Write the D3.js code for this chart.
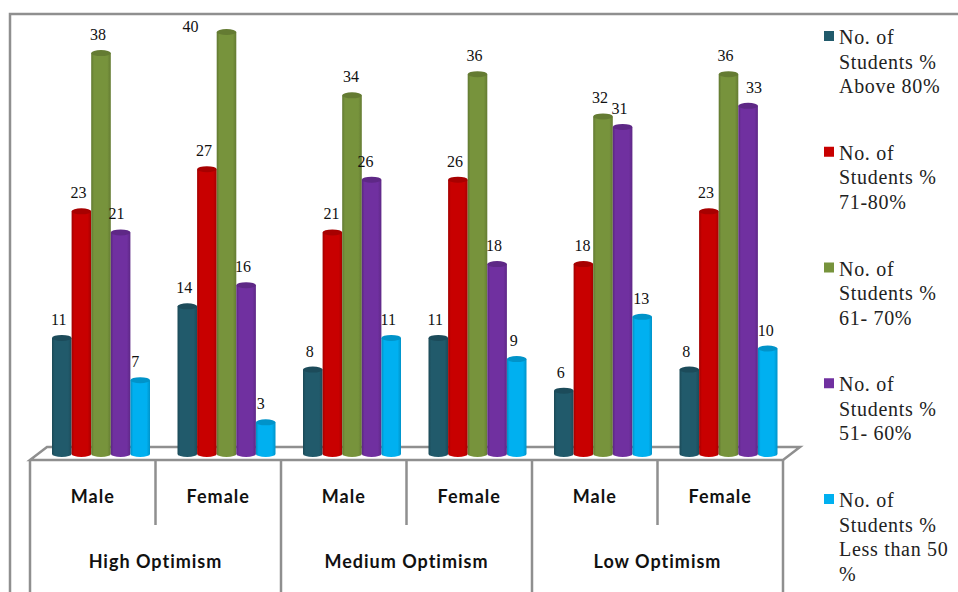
<!DOCTYPE html>
<html>
<head>
<meta charset="utf-8">
<script src="https://cdn.jsdelivr.net/npm/d3@7"></script>
<style>
html,body{margin:0;padding:0;background:#fff;overflow:hidden}
svg{display:block}
</style>
</head>
<body>
<svg id="chart" width="958" height="592"></svg>
<script>
// Student performance by optimism level and gender
const optimismLevels = ["High Optimism", "Medium Optimism", "Low Optimism"];
const genders = ["Male", "Female", "Male", "Female", "Male", "Female"];
const bands = ["Above 80%", "71-80%", "61- 70%", "51- 60%", "Less than 50 %"];

const above80 = [11, 14, 8, 11, 6, 8];
const from71to80 = [23, 27, 21, 26, 18, 23];
const from61to70 = [38, 40, 34, 36, 32, 36];
const from51to60 = [21, 16, 26, 18, 31, 33];
const below50 = [7, 3, 11, 9, 13, 10];

const seriesValues = [above80, from71to80, from61to70, from51to60, below50];
const seriesColors = ["#215a6b", "#c80000", "#77933c", "#7030a0", "#00b0f0"];

const legendLines = [
  ["No. of", "Students %", "Above 80%"],
  ["No. of", "Students %", "71-80%"],
  ["No. of", "Students %", "61- 70%"],
  ["No. of", "Students %", "51- 60%"],
  ["No. of", "Students %", "Less than 50", "%"]
];

const svg = d3.select("#chart");
const defs = svg.append("defs");
const serif = "'Liberation Serif','Times New Roman',serif";
const frameColor = "#8f8f8f";

const x0 = d3.scaleBand().domain(d3.range(genders.length)).range([30, 783]);
const x1 = d3.scaleBand().domain(d3.range(seriesValues.length)).range([22, 120]);
const y = d3.scaleLinear().domain([0, 40]).range([454, 32]);

// Horizontal shading that gives each bar its cylinder look
seriesColors.forEach((c, i) => {
  const g = defs.append("linearGradient").attr("id", "cyl" + i);
  const base = d3.color(c);
  [[0, base.darker(0.6)], [0.14, base], [0.82, base], [1, base.darker(0.5)]].forEach(([o, col]) =>
    g.append("stop").attr("offset", o).attr("stop-color", col));
});

// Outer frame
const frame = svg.append("g").attr("fill", "none").attr("stroke", frameColor);
frame.append("path").attr("stroke-width", 2.5).attr("d", d3.line()([[958, 14], [10, 14], [10, 592]]));

// Floor of the plot, drawn in perspective
const frontY = 460, backY = 447, depth = 17;
const [left, right] = x0.range();
frame.append("path").attr("stroke-width", 2.5).attr("fill", "#fff")
  .attr("d", d3.line()([[left, frontY], [left + depth, backY], [right + depth, backY], [right, frontY]]) + "Z");

// Category dividers: gender cells stop short, optimism groups run to the bottom
const edges = d3.range(genders.length + 1);
frame.selectAll("line.divider").data(edges).join("line")
  .attr("class", "divider")
  .attr("stroke-width", 2.5)
  .attr("x1", i => i === genders.length ? right : x0(i))
  .attr("x2", i => i === genders.length ? right : x0(i))
  .attr("y1", frontY)
  .attr("y2", i => i % 2 === 0 ? 592 : 525);

// Cylindrical bars
const rx = x1.bandwidth() / 2, ry = 3;
const barPath = (x, top) =>
  `M${x},${top}V${y(0)}A${rx},${ry} 0 0 0 ${x + 2 * rx},${y(0)}V${top}Z`;

seriesValues.forEach((vals, s) => {
  const g = svg.append("g").attr("class", "series");
  const bar = g.selectAll("g").data(vals).join("g")
    .attr("transform", (d, i) => `translate(${x0(i) + x1(s)},0)`);
  bar.append("path")
    .attr("d", d => barPath(0, y(d)))
    .attr("fill", `url(#cyl${s})`);
  bar.append("ellipse")
    .attr("cx", rx).attr("cy", d => y(d)).attr("rx", rx).attr("ry", ry)
    .attr("fill", d3.color(seriesColors[s]).darker(0.5));
});

// Value labels sit up and to the left of the cap; a few are moved clear of neighbours
const labelNudge = {
  "1-2": [-33, 13], "5-3": [9, 0], "2-1": [2, 0], "2-2": [2, 0], "4-1": [2, 0], "4-4": [2, 0],
  "2-3": [-3, 0], "0-4": [-2, 0], "1-4": [-2, 0], "0-3": [-1, 0], "5-4": [1, 0]
};
seriesValues.forEach((vals, s) => {
  svg.append("g").selectAll("text").data(vals).join("text")
    .attr("x", (d, i) => x0(i) + x1(s) + rx - 3 + (labelNudge[i + "-" + s] || [0, 0])[0])
    .attr("y", (d, i) => y(d) - 13 + (labelNudge[i + "-" + s] || [0, 0])[1])
    .attr("text-anchor", "middle")
    .attr("font-family", serif)
    .attr("font-size", 16)
    .attr("fill", "#111")
    .text(d => d);
});

// Category labels
const catFont = "Lato,'Noto Sans',sans-serif";
svg.append("g").selectAll("text").data(genders).join("text")
  .attr("x", (d, i) => x0(i) + x0.bandwidth() / 2)
  .attr("y", 503)
  .attr("text-anchor", "middle")
  .attr("font-family", catFont).attr("font-weight", 700).attr("font-size", 18).attr("letter-spacing", 1)
  .attr("fill", "#111")
  .text(d => d);
svg.append("g").selectAll("text").data(optimismLevels).join("text")
  .attr("x", (d, i) => x0(i * 2) + x0.bandwidth())
  .attr("y", 568)
  .attr("text-anchor", "middle")
  .attr("font-family", catFont).attr("font-weight", 700).attr("font-size", 18).attr("letter-spacing", 1)
  .attr("fill", "#111")
  .text(d => d);

// Legend
const legendY = d3.scalePoint().domain(d3.range(bands.length)).range([31, 494]);
const legend = svg.append("g").selectAll("g").data(legendLines).join("g")
  .attr("transform", (d, i) => `translate(824,${legendY(i)})`);
legend.append("rect").attr("width", 10).attr("height", 10)
  .attr("fill", (d, i) => seriesColors[i]);
legend.append("text")
  .attr("font-family", serif).attr("font-size", 20).attr("letter-spacing", 0.7).attr("fill", "#222")
  .selectAll("tspan").data(d => d).join("tspan")
  .attr("x", 15)
  .attr("y", (d, i) => 13 + i * 24.5)
  .text(d => d);
</script>
</body>
</html>
